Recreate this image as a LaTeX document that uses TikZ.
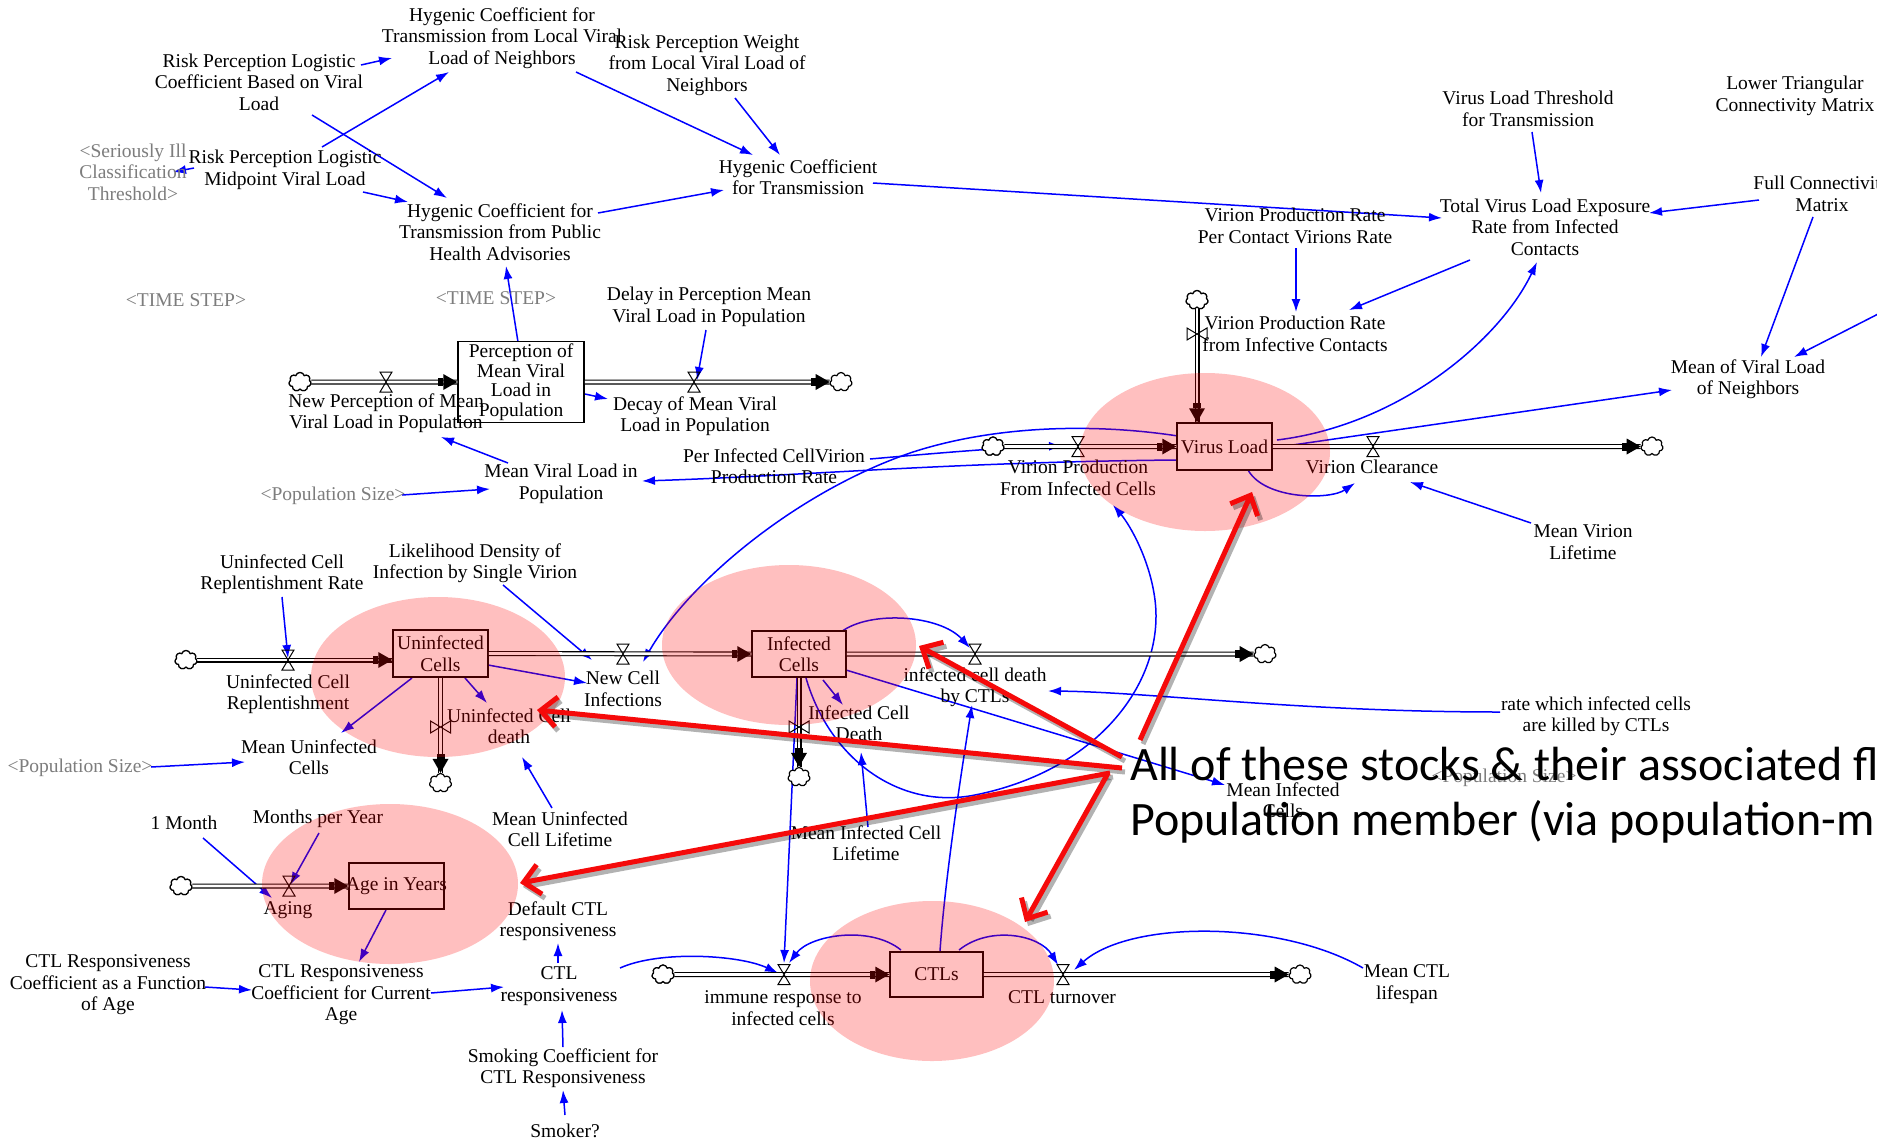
\documentclass[tikz,border=0pt]{standalone}
\usepackage{fontspec}
\setmainfont{Liberation Serif}
\newfontfamily\calib{Carlito}
\usetikzlibrary{arrows.meta,shapes.symbols}
\newcommand\lblfont{\fontsize{19.5}{21.5}\selectfont}
\definecolor{lnkblue}{RGB}{0,0,255}
\definecolor{annred}{RGB}{245,10,10}
\definecolor{shadowgray}{RGB}{125,125,125}
\tikzset{
  lab/.style={align=center,font=\lblfont,inner sep=0pt,text=black},
  shadowvar/.style={lab,text=shadowgray},
  link/.style={draw=lnkblue,line width=1.5pt,-{Latex[length=13pt,width=9pt]}},
  pipe/.style={draw=black,line width=1.1pt,double=white,double distance=2.8pt},
  stockbox/.style={draw=black,line width=1.5pt,fill=white,align=center,font=\lblfont,inner sep=0pt},
  cloudnode/.style={cloud,cloud puffs=7,draw=black,line width=1.2pt,fill=white,minimum width=22pt,minimum height=19pt,inner sep=0pt},
  pinkblob/.style={fill={rgb,255:red,255;green,0;blue,0},fill opacity=0.25},
  redarrow/.style={draw=annred,line width=5pt,-{Straight Barb[length=16pt,width=30pt]}},
  redshadow/.style={draw=black,draw opacity=0.3,line width=5pt,-{Straight Barb[length=16pt,width=30pt]}},
  valvepic/.pic={\draw[line width=1pt] (-6,-10) -- (6,-10) -- (-6,10) -- (6,10) -- cycle;},
  pipetip/.pic={\fill (0,0) -- (-14,-8) -- (-14,8) -- cycle; \fill (-14,-4) rectangle (-19,4);}
}
\begin{document}
\begin{tikzpicture}[x=1pt,y=-1pt]
\useasboundingbox (0,0) rectangle (1877,1141);
\fill[white] (0,0) rectangle (1877,1141);
\clip (0,0) rectangle (1877,1141);

% ---------- information links ----------
\draw[link] (361,65) -- (392,58);
\draw[link] (322,147) -- (449,72);
\draw[link] (312,115) -- (447,198);
\draw[link] (194,168) -- (173,172);
\draw[link] (363,192) -- (408,202);
\draw[link] (576,72) -- (753,155);
\draw[link] (735,98) -- (780,155);
\draw[link] (598,213) -- (724,190);
\draw[link] (873,183) -- (1442,218);
\draw[link] (1532,132) -- (1541,193);
\draw[link] (1759,200) -- (1649,213);
\draw[link] (1813,217) -- (1761,357);
\draw[link] (1882,312) -- (1794,357);
\draw[link] (1296,248) -- (1296,312);
\draw[link] (1470,260) -- (1349,310);
\draw[link] (1277,440) .. controls (1400,425) and (1500,340) .. (1537,262);
\draw[link] (1272,448) -- (1672,390);
\draw[link] (1248,470) .. controls (1265,500) and (1330,500) .. (1355,483);
\draw[link] (1531,523) -- (1410,482);
\draw[link] (518,342) -- (506,266);
\draw[link] (706,330) -- (697,380);
\draw[link] (585,394) -- (608,399);
\draw[link] (508,463) -- (441,437);
\draw[link] (402,495) -- (490,489);
\draw[link] (1177,460) .. controls (950,462) and (800,476) .. (642,481);
\draw[link] (870,459) .. controls (950,452) and (1010,447) .. (1062,446);
\draw[link] (1178,436) .. controls (1100,424) and (1000,424) .. (913,452) .. controls (800,490) and (690,580) .. (643,662);
\draw[link] (806,678) .. controls (830,760) and (900,810) .. (975,795) .. controls (1100,770) and (1165,680) .. (1155,600) .. controls (1150,560) and (1130,525) .. (1113,505);
\draw[link] (841,632) .. controls (870,610) and (940,615) .. (970,648);
\draw[link] (823,680) -- (843,705);
\draw[link] (868,827) -- (861,752);
\draw[link] (1500,712) .. controls (1300,712) and (1150,692) .. (1048,691);
\draw[link] (940,951) .. controls (945,880) and (960,780) .. (972,705);
\draw[link] (846,670) -- (1225,785);
\draw[link] (797,678) -- (784,963);
\draw[link] (503,585) -- (592,660);
\draw[link] (488,665) -- (587,683);
\draw[link] (465,678) -- (487,703);
\draw[link] (552,808) -- (522,757);
\draw[link] (412,678) -- (341,733);
\draw[link] (151,767) -- (245,762);
\draw[link] (282,597) -- (288,658);
\draw[link] (203,838) -- (272,898);
\draw[link] (319,833) -- (290,885);
\draw[link] (386,910) -- (359,962);
\draw[link] (205,987) -- (252,990);
\draw[link] (431,993) -- (504,987);
\draw[link] (558,963) -- (558,943);
\draw[link] (563,1047) -- (562,1010);
\draw[link] (565,1115) -- (563,1090);
\draw[link] (620,968) .. controls (660,950) and (740,955) .. (778,973);
\draw[link] (901,950) .. controls (870,925) and (810,935) .. (789,963);
\draw[link] (959,950) .. controls (990,925) and (1040,935) .. (1058,965);
\draw[link] (1363,968) .. controls (1280,920) and (1130,920) .. (1074,970);

% ---------- stocks ----------
\node[stockbox,minimum width=126pt,minimum height=81pt,font=\fontsize{19.5}{19.5}\selectfont] (K) at (521,382) {Perception of\\Mean Viral\\Load in\\Population};
\node[stockbox,minimum width=95pt,minimum height=47pt] (VL) at (1224.5,446.5) {Virus Load};
\node[stockbox,minimum width=95pt,minimum height=47pt] (UC) at (440.5,653.5) {Uninfected\\Cells};
\node[stockbox,minimum width=94pt,minimum height=46pt] (IC) at (799,654) {Infected\\Cells};
\node[stockbox,minimum width=95pt,minimum height=46pt] (AGE) at (396.5,886) {};
\node[lab] (AGEt) at (AGE) {Age in Years};
\node[stockbox,minimum width=93pt,minimum height=45pt] (CTL) at (936.5,974.5) {CTLs};

% ---------- clouds ----------
\node[cloudnode] (c1) at (300,382) {};
\node[cloudnode] (c2) at (841,382) {};
\node[cloudnode] (c3) at (993,446.5) {};
\node[cloudnode] (c4) at (1197,300) {};
\node[cloudnode] (c5) at (1652,446.5) {};
\node[cloudnode] (c6) at (186,660) {};
\node[cloudnode] (c7) at (440.5,783) {};
\node[cloudnode] (c8) at (1265,654) {};
\node[cloudnode] (c9) at (799,777) {};
\node[cloudnode] (c10) at (181,886) {};
\node[cloudnode] (c11) at (663,974.5) {};
\node[cloudnode] (c12) at (1300,974.5) {};

% ---------- pipes ----------
\draw[pipe] (c1.east) -- (K.west);
\draw[pipe] (K.east) -- (c2.west);
\draw[pipe] (c3.east) -- (VL.west);
\draw[pipe] (c4.south) -- (c4.south |- VL.north);
\draw[pipe] (VL.east) -- (c5.west);
\draw[pipe] (c6.east) -- (c6.east -| UC.west);
\draw[pipe] (UC.east) -- (IC.west);
\draw[pipe] (IC.east) -- (c8.west);
\draw[pipe] (UC.south) -- (c7.north);
\draw[pipe] (IC.south) -- (c9.north);
\draw[pipe] (c10.east) -- (AGE.west);
\draw[pipe] (c11.east) -- (CTL.west);
\draw[pipe] (CTL.east) -- (c12.west);
\node[cloudnode] at (c1) {};
\node[cloudnode] at (c3) {};
\node[cloudnode] at (c4) {};
\node[cloudnode] at (c6) {};
\node[cloudnode] at (c10) {};
\node[cloudnode] at (c11) {};

% pipe tips
\pic at (K.west) {pipetip};
\pic at (c2.west) {pipetip};
\pic at (VL.west) {pipetip};
\pic[rotate=-90] at (c4.south |- VL.north) {pipetip};
\pic at (c5.west) {pipetip};
\pic at (c6.east -| UC.west) {pipetip};
\pic at (IC.west) {pipetip};
\pic at (c8.west) {pipetip};
\pic[rotate=-90] at (c7.north) {pipetip};
\pic[rotate=-90] at (c9.north) {pipetip};
\pic at (AGE.west) {pipetip};
\pic at (CTL.west) {pipetip};
\pic at (c12.west) {pipetip};

% valves
\pic at (386,382) {valvepic};
\pic at (694,382) {valvepic};
\pic at (1078,446.5) {valvepic};
\pic[rotate=90] at (1197,334) {valvepic};
\pic at (1373,446.5) {valvepic};
\pic at (288,660) {valvepic};
\pic at (623,654) {valvepic};
\pic at (975,654) {valvepic};
\pic[rotate=90] at (440.5,727) {valvepic};
\pic[rotate=90] at (799,727) {valvepic};
\pic at (289,886) {valvepic};
\pic at (784,974.5) {valvepic};
\pic at (1063,974.5) {valvepic};

% ---------- labels ----------
\node[lab] (hcl) at (502,38) {Hygenic Coefficient for\\Transmission from Local Viral\\Load of Neighbors};
\node[lab] (rplc) at (259,82) {Risk Perception Logistic\\Coefficient Based on Viral\\Load};
\node[lab] (rpw) at (707,65) {Risk Perception Weight\\from Local Viral Load of\\Neighbors};
\node[shadowvar] (sic) at (133,172) {<Seriously Ill\\Classification\\Threshold>};
\node[lab] (rplm) at (285,170) {Risk Perception Logistic\\Midpoint Viral Load};
\node[lab] (hcp) at (500,232) {Hygenic Coefficient for\\Transmission from Public\\Health Advisories};
\node[lab] (hct) at (798,177) {Hygenic Coefficient\\for Transmission};
\node[shadowvar] (ts1) at (186,300) {<TIME STEP>};
\node[shadowvar] (ts2) at (496,298) {<TIME STEP>};
\node[lab] (dpm) at (709,307) {Delay in Perception Mean\\Viral Load in Population};
\node[lab] (npm) at (386,413) {New Perception of Mean\\Viral Load in Population};
\node[lab] (dmv) at (695,416) {Decay of Mean Viral\\Load in Population};
\node[lab] (mvl) at (561,484) {Mean Viral Load in\\Population};
\node[shadowvar] (ps1) at (333,496) {<Population Size>};
\node[lab] (picv) at (774,466) {Per Infected CellVirion\\Production Rate};
\node[lab] (vlt) at (1528,109) {Virus Load Threshold\\for Transmission};
\node[lab] (ltc) at (1795,96) {Lower Triangular\\Connectivity Matrix};
\node[lab] (tvl) at (1545,227) {Total Virus Load Exposure\\Rate from Infected\\Contacts};
\node[lab] (fcm) at (1822,194) {Full Connectivity\\Matrix};
\node[lab] (mvn) at (1748,379) {Mean of Viral Load\\of Neighbors};
\node[lab] (vprc) at (1295,226) {Virion Production Rate\\Per Contact Virions Rate};
\node[lab] (vpri) at (1295,334) {Virion Production Rate\\from Infective Contacts};
\node[lab] (vpic) at (1078,478) {Virion Production\\From Infected Cells};
\node[lab] (vcl) at (1372,467) {Virion Clearance};
\node[lab] (mvlt) at (1583,542) {Mean Virion\\Lifetime};
\node[lab] (ucrr) at (282,574) {Uninfected Cell\\Replentishment Rate};
\node[lab] (ldi) at (475,563) {Likelihood Density of\\Infection by Single Virion};
\node[lab] (ucr) at (288,694) {Uninfected Cell\\Replentishment};
\node[lab] (nci) at (623,689) {New Cell\\Infections};
\node[lab] (icd) at (975,687) {infected cell death\\by CTLs};
\node[lab] (ucd) at (509,726) {Uninfected Cell\\death};
\node[lab] (icdeath) at (859,723) {Infected Cell\\Death};
\node[lab] (muc) at (309,757) {Mean Uninfected\\Cells};
\node[shadowvar] (ps2) at (80,768) {<Population Size>};
\node[lab] (mucl) at (560,829) {Mean Uninfected\\Cell Lifetime};
\node[lab] (micl) at (866,843) {Mean Infected Cell\\Lifetime};
\node[lab] (mic) at (1283,800) {Mean Infected\\Cells};
\node[shadowvar] (ps3) at (1504,778) {<Population Size>};
\node[lab] (rwic) at (1596,716) {rate which infected cells\\are killed by CTLs};
\node[lab] (onem) at (184,823) {1 Month};
\node[lab] (mpy) at (318,819) {Months per Year};
\node[lab] (aging) at (288,910) {Aging};
\node[lab] (dctl) at (558,921) {Default CTL\\responsiveness};
\node[lab] (ctlr) at (559,986) {CTL\\responsiveness};
\node[lab] (crcf) at (108,985) {CTL Responsiveness\\Coefficient as a Function\\of Age};
\node[lab] (crcc) at (341,995) {CTL Responsiveness\\Coefficient for Current\\Age};
\node[lab] (scc) at (563,1068) {Smoking Coefficient for\\CTL Responsiveness};
\node[lab] (smk) at (565,1131) {Smoker?};
\node[lab] (irc) at (783,1008) {immune response to\\infected cells};
\node[lab] (ctlt) at (1062,997) {CTL turnover};
\node[lab] (mcl) at (1407,984) {Mean CTL\\lifespan};

% ---------- highlight ellipses ----------
\fill[pinkblob] (1205,452) ellipse [x radius=125pt, y radius=79pt];
\fill[pinkblob] (789,645) ellipse [x radius=127pt, y radius=80pt];
\fill[pinkblob] (438,677) ellipse [x radius=127pt, y radius=80pt];
\fill[pinkblob] (390,884) ellipse [x radius=128pt, y radius=80pt];
\fill[pinkblob] (932,981) ellipse [x radius=122pt, y radius=80pt];

% ---------- annotation ----------
\coordinate (a0) at (1140,740);
\coordinate (a1) at (1122,757);
\coordinate (a2) at (1122,768);
\coordinate (a3) at (1110,773);
\coordinate (a4) at (1107,775);
\coordinate (t0) at (1252,492);
\coordinate (t1) at (919,646);
\coordinate (t2) at (537,710);
\coordinate (t3) at (520,883);
\coordinate (t4) at (1025,922);
\foreach \s/\t in {a0/t0,a1/t1,a2/t2,a3/t3,a4/t4}{
  \draw[redshadow] ([xshift=3pt,yshift=-4pt]\s) -- ([xshift=3pt,yshift=-4pt]\t);
}
\foreach \s/\t in {a0/t0,a1/t1,a2/t2,a3/t3,a4/t4}{
  \draw[redarrow] (\s) -- (\t);
}
\node[anchor=base west,inner sep=0pt,font=\calib\fontsize{48}{55}\selectfont] (note1) at (1130,780) {All of these stocks \& their associated fl};
\node[anchor=base west,inner sep=0pt,font=\calib\fontsize{48}{55}\selectfont] (note2) at (1130,835) {Population member (via population-m};
\end{tikzpicture}
\end{document}
